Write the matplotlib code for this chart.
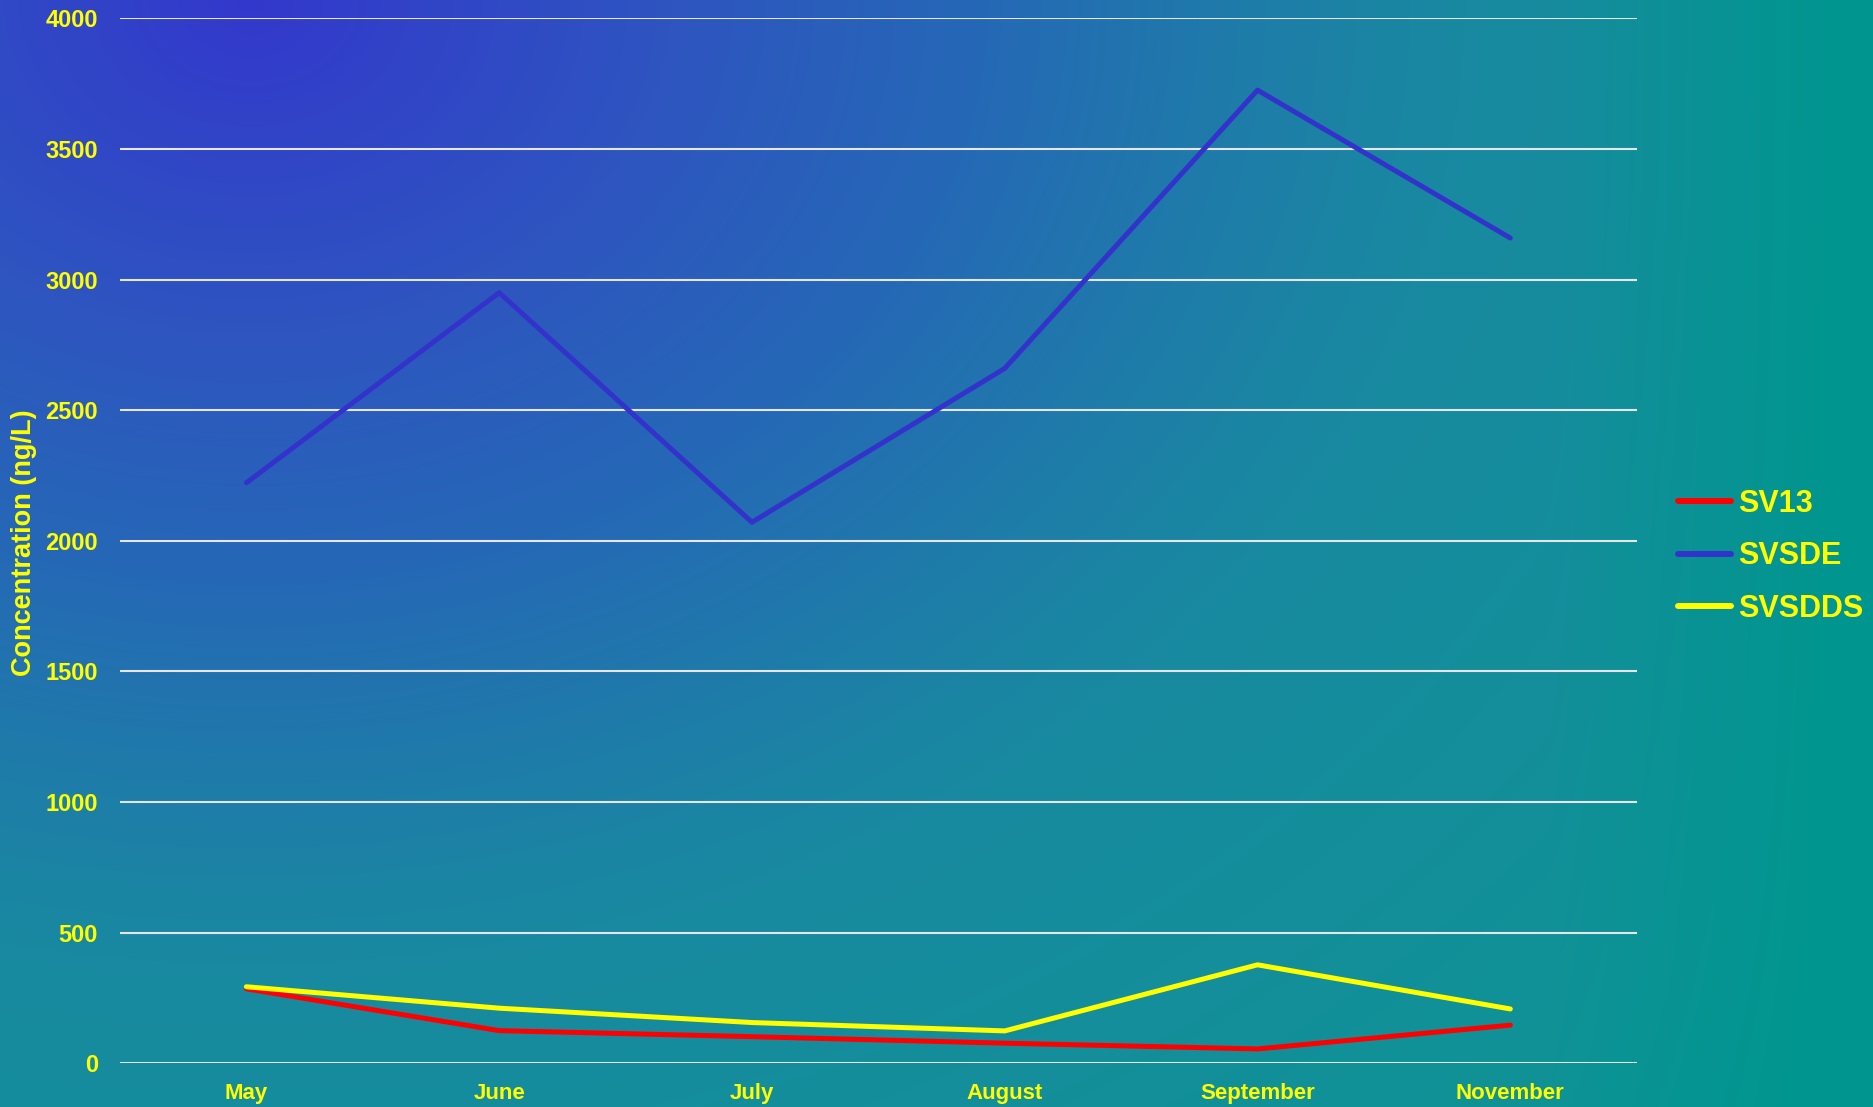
import numpy as np
import matplotlib
matplotlib.use("Agg")
import matplotlib.pyplot as plt

plt.rcParams['font.family'] = ['Liberation Sans', 'DejaVu Sans']
plt.rcParams['font.weight'] = 'bold'

# dados (ng/L)
meses = ['May', 'June', 'July', 'August', 'September', 'November']
sv13 = [285, 125, 102, 77, 55, 146]
svsde = [2222, 2950, 2071, 2660, 3725, 3159]
svsdds = [293, 211, 156, 124, 377, 208]

yticks = [0, 500, 1000, 1500, 2000, 2500, 3000, 3500, 4000]

W, H = 1873, 1107
fig = plt.figure(figsize=(W/100, H/100), dpi=100)

# fundo em gradiente (azul no canto superior esquerdo -> verde-azulado)
bg = fig.add_axes([0, 0, 1, 1], zorder=-10)
xx, yy = np.meshgrid(np.arange(W), np.arange(H))
r = np.sqrt(((xx - 250)/1450.0)**2 + (yy/1150.0)**2)
pos = [0, 0.3, 0.5, 0.7, 0.85, 1.05, 1.3, 1.6]
cores = np.array([[51, 56, 204], [46, 86, 192], [37, 104, 182], [30, 126, 168],
                  [24, 138, 160], [20, 142, 155], [15, 146, 150], [0, 150, 143]])/255.
img = np.stack([np.interp(r, pos, cores[:, k]) for k in range(3)], axis=-1)
# lado direito (legenda) tende ao verde-azulado puro
w = np.clip((xx - 1550)/300.0, 0, 1)[..., None]
img = img*(1 - w) + cores[-1]*w
bg.imshow(img, aspect='auto', extent=[0, 1, 0, 1], origin='upper')
bg.set_xlim(0, 1)
bg.set_ylim(0, 1)
bg.axis('off')

ax = fig.add_axes([120/W, 1 - 1063.3/H, (1636.7 - 120)/W, (1063.3 - 18.3)/H])
ax.set_facecolor('none')

x = np.arange(len(meses))
ax.plot(x, sv13, color='#ff0000', lw=3.6, solid_capstyle='round', solid_joinstyle='round', label='SV13', zorder=3)
ax.plot(x, svsde, color='#3333cc', lw=3.6, solid_capstyle='round', solid_joinstyle='round', label='SVSDE', zorder=3)
ax.plot(x, svsdds, color='#ffff00', lw=3.6, solid_capstyle='round', solid_joinstyle='round', label='SVSDDS', zorder=3)

ax.set_xlim(-0.5, len(meses) - 0.5)
ax.set_ylim(0, 4000)
ax.set_yticks(yticks)
ax.set_xticks(x)
ax.set_xticklabels(meses)
ax.yaxis.grid(True, color='#e6e6e6', lw=1.5)
ax.set_axisbelow(True)
for s in ax.spines.values():
    s.set_visible(False)
ax.tick_params(axis='both', length=0, colors='#ffff00', labelsize=17)
ax.tick_params(axis='y', pad=16)
ax.tick_params(axis='x', pad=14, labelsize=16)
for lb in ax.get_xticklabels() + ax.get_yticklabels():
    lb.set_fontweight('bold')

fig.text(24/W, 1 - 543/H, 'Concentration (ng/L)', rotation=90, color='#ffff00',
         fontsize=19.5, fontweight='bold', ha='center', va='center')

leg = ax.legend(loc='center left', bbox_to_anchor=(1.0094, 0.485), frameon=False,
                fontsize=22, handlelength=1.71, handletextpad=0.25, labelspacing=0.73)
for txt in leg.get_texts():
    txt.set_color('#ffff00')
    txt.set_fontweight('bold')
for ln in leg.get_lines():
    ln.set_linewidth(4.3)
    ln.set_solid_capstyle('round')

fig.savefig('out.png', dpi=100)
